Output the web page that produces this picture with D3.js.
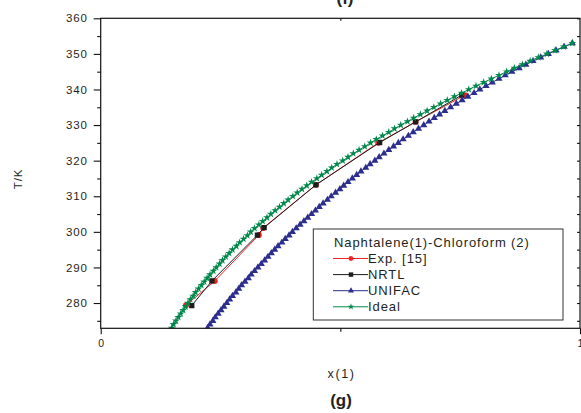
<!DOCTYPE html>
<html>
<head>
<meta charset="utf-8">
<script src="https://cdn.jsdelivr.net/npm/d3@7"></script>
<style>
  html, body { margin: 0; padding: 0; background: #fff; }
  svg { display: block; font-family: "Liberation Sans", Arial, sans-serif; }
</style>
</head>
<body>
<svg id="chart" width="581" height="413"></svg>
<script>
// ---- data ----
const tempK = [273,274,275,276,277,278,279,280,281,282,
  283,284,285,286,287,288,289,290,291,292,
  293,294,295,296,297,298,299,300,301,302,
  303,304,305,306,307,308,309,310,311,312,
  313,314,315,316,317,318,319,320,321,322,
  323,324,325,326,327,328,329,330,331,332,
  333,334,335,336,337,338,339,340,341,342,
  343,344,345,346,347,348,349,350,351,352,
  353];
const idealX = [0.148,0.152,0.157,0.162,0.167,0.172,0.177,0.182,0.187,0.193,
  0.198,0.204,0.210,0.216,0.222,0.228,0.235,0.241,0.248,0.254,
  0.261,0.268,0.275,0.283,0.290,0.298,0.306,0.313,0.321,0.330,
  0.338,0.347,0.355,0.364,0.373,0.382,0.391,0.401,0.410,0.420,
  0.430,0.440,0.451,0.461,0.472,0.482,0.493,0.505,0.516,0.527,
  0.539,0.551,0.563,0.575,0.588,0.601,0.613,0.626,0.640,0.653,
  0.667,0.681,0.695,0.709,0.723,0.738,0.753,0.768,0.783,0.799,
  0.815,0.831,0.847,0.863,0.880,0.896,0.913,0.931,0.948,0.966,
  0.984];
const unifacX = [0.223,0.228,0.234,0.239,0.245,0.251,0.257,0.263,0.269,0.275,
  0.282,0.288,0.294,0.301,0.308,0.314,0.321,0.328,0.335,0.342,
  0.349,0.356,0.363,0.370,0.378,0.385,0.393,0.400,0.408,0.416,
  0.424,0.432,0.440,0.448,0.456,0.464,0.473,0.481,0.490,0.499,
  0.507,0.516,0.525,0.534,0.543,0.553,0.562,0.572,0.581,0.591,
  0.601,0.611,0.621,0.631,0.642,0.652,0.663,0.674,0.685,0.696,
  0.707,0.718,0.730,0.742,0.754,0.766,0.779,0.791,0.804,0.817,
  0.831,0.844,0.858,0.873,0.887,0.902,0.918,0.934,0.950,0.967,
  0.984];
const expX  = [0.178, 0.238, 0.330, 0.339, 0.449, 0.579, 0.657, 0.760];
const expT  = [279.4, 286.2, 299.1, 301.1, 313.2, 325.0, 330.9, 338.4];
const nrtlX = [0.190, 0.232, 0.327, 0.341, 0.449, 0.582, 0.657, 0.753];
const nrtlT = [279.3, 286.2, 299.1, 301.2, 313.2, 325.1, 330.9, 338.4];

const yMajorTicks = [280, 290, 300, 310, 320, 330, 340, 350, 360];
const yMinorTicks = [275, 285, 295, 305, 315, 325, 335, 345, 355];
const xMajorTicks = [0, 1];
const xMinorTicks = [0.5];
const xTickLabels = ["0", "1"];

const legendTitle = "Naphtalene(1)-Chloroform (2)";
const seriesNames = ["Exp. [15]", "NRTL", "UNIFAC", "Ideal"];
const seriesColors = ["#ee2424", "#1c1c1c", "#2b2e8e", "#00884a"];

// ---- layout ----
const svg = d3.select("#chart");
const L = 100.7, R = 580, T = 18.3, B = 328.3;
const x = d3.scaleLinear().domain([0, 1]).range([L, R]);
const y = d3.scaleLinear().domain([272.9, 360]).range([B, T]);
const textColor = "#231f20";

svg.append("defs").append("clipPath").attr("id", "plotclip")
  .append("rect").attr("x", L).attr("y", T).attr("width", R - L).attr("height", B - T);

const plot = svg.append("g").attr("clip-path", "url(#plotclip)");

const line = d3.line().x(d => x(d[0])).y(d => y(d[1]));

const expPts = expX.map((v, i) => [v, expT[i]]);
const nrtlPts = nrtlX.map((v, i) => [v, nrtlT[i]]);
const unifacPts = unifacX.map((v, i) => [v, tempK[i]]);
const idealPts = idealX.map((v, i) => [v, tempK[i]]);

const series = [
  { pts: expPts, color: seriesColors[0], sym: d3.symbolCircle, size: 28 },
  { pts: nrtlPts, color: seriesColors[1], sym: d3.symbolSquare, size: 28 },
  { pts: unifacPts, color: seriesColors[2], sym: d3.symbolTriangle, size: 22 },
  { pts: idealPts, color: seriesColors[3], sym: d3.symbolStar, size: 19 }
];

series.forEach(s => {
  plot.append("path").datum(s.pts).attr("d", line)
    .attr("fill", "none").attr("stroke", s.color).attr("stroke-width", 1);
  plot.selectAll(null).data(s.pts).enter().append("path")
    .attr("d", d3.symbol().type(s.sym).size(s.size))
    .attr("transform", d => `translate(${x(d[0])},${y(d[1])})`)
    .attr("fill", s.color);
});

// ---- axes ----
function styleAxis(g) {
  g.select(".domain").remove();
  g.selectAll(".tick line").attr("stroke", "#111").attr("stroke-width", 1.1);
  g.selectAll("text").attr("fill", textColor).attr("font-family", "Liberation Sans, Arial, sans-serif");
}
// left
svg.append("g").attr("transform", `translate(${L},0)`)
  .call(d3.axisLeft(y).tickValues(yMajorTicks).tickSize(7).tickPadding(6).tickFormat(d3.format("d")))
  .call(styleAxis)
  .selectAll("text").attr("font-size", 11.5).attr("letter-spacing", 0.8);
svg.append("g").attr("transform", `translate(${L},0)`)
  .call(d3.axisLeft(y).tickValues(yMinorTicks).tickSize(3.5).tickFormat(""))
  .call(styleAxis);
// right (inward)
svg.append("g").attr("transform", `translate(${R},0)`)
  .call(d3.axisLeft(y).tickValues(yMajorTicks.concat(yMinorTicks)).tickSize(3).tickFormat(""))
  .call(styleAxis);
// bottom
svg.append("g").attr("transform", `translate(0,${B})`)
  .call(d3.axisBottom(x).tickValues(xMajorTicks).tickSize(6).tickPadding(5).tickFormat((d, i) => xTickLabels[i]))
  .call(styleAxis)
  .selectAll("text").attr("font-size", 10.5);
svg.append("g").attr("transform", `translate(0,${B})`)
  .call(d3.axisBottom(x).tickValues(xMinorTicks).tickSize(3.5).tickFormat(""))
  .call(styleAxis);
// top (inward)
svg.append("g").attr("transform", `translate(0,${T})`)
  .call(d3.axisBottom(x).tickValues(xMinorTicks).tickSize(2.5).tickFormat(""))
  .call(styleAxis);

// frame
svg.append("rect").attr("x", L).attr("y", T).attr("width", R - L).attr("height", B - T)
  .attr("fill", "none").attr("stroke", "#111").attr("stroke-width", 1.2);

// axis titles
svg.append("text").attr("transform", "translate(22,179) rotate(-90)")
  .attr("text-anchor", "middle").attr("font-size", 11.5).attr("fill", textColor)
  .attr("letter-spacing", 0.8).text("T/K");
svg.append("text").attr("x", 341.5).attr("y", 377.5)
  .attr("text-anchor", "middle").attr("font-size", 12.5).attr("fill", textColor)
  .attr("letter-spacing", 1.6).text("x(1)");
svg.append("text").attr("x", 341).attr("y", 406)
  .attr("text-anchor", "middle").attr("font-size", 17).attr("font-weight", "bold")
  .attr("fill", textColor).text("(g)");
svg.append("text").attr("x", 345).attr("y", 4)
  .attr("text-anchor", "middle").attr("font-size", 17).attr("font-weight", "bold")
  .attr("fill", textColor).text("(f)");

// ---- legend ----
const lg = svg.append("g");
const lgL = 313.3, lgT = 229, lgR = 563, lgB = 320;
lg.append("rect").attr("x", lgL).attr("y", lgT).attr("width", lgR - lgL).attr("height", lgB - lgT)
  .attr("fill", "#fff").attr("stroke", "#333").attr("stroke-width", 1);
lg.append("text").attr("x", 334).attr("y", 246.7).attr("font-size", 13)
  .attr("letter-spacing", 0.9).attr("fill", textColor).text(legendTitle);
series.forEach((s, i) => {
  const yc = 258.5 + i * 16.1;
  lg.append("line").attr("x1", 333).attr("x2", 368).attr("y1", yc).attr("y2", yc)
    .attr("stroke", s.color).attr("stroke-width", 1);
  lg.append("path").attr("d", d3.symbol().type(s.sym).size(s.size * 0.7))
    .attr("transform", `translate(351,${yc})`).attr("fill", s.color);
  lg.append("text").attr("x", 368).attr("y", yc + 4.6).attr("font-size", 13)
    .attr("letter-spacing", 0.9).attr("fill", textColor).text(seriesNames[i]);
});
</script>
</body>
</html>
